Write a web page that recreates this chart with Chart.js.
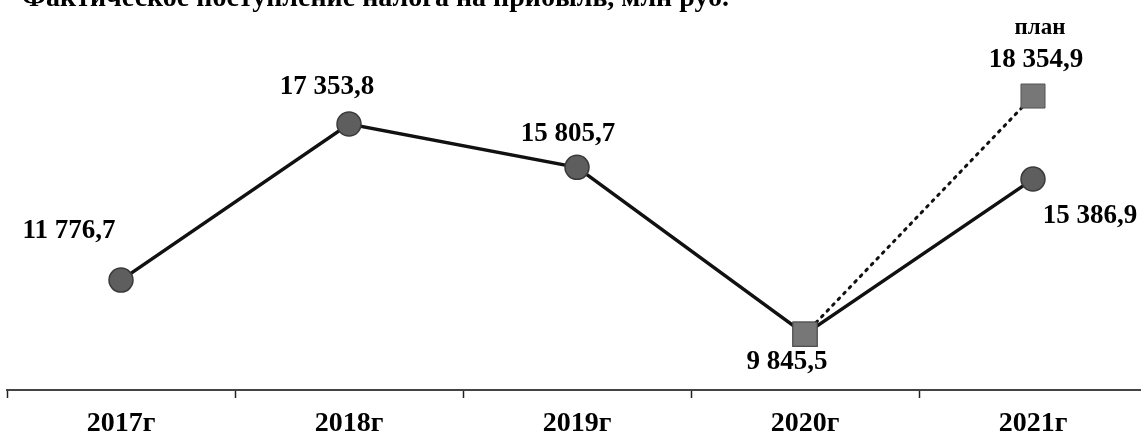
<!DOCTYPE html>
<html>
<head>
<meta charset="utf-8">
<script src="https://cdn.jsdelivr.net/npm/chart.js@4"></script>
<style>
html,body{margin:0;padding:0;background:#fff;overflow:hidden;width:1141px;height:436px;}
#wrap{position:relative;width:1150px;height:436px;}
canvas{display:block;}
</style>
</head>
<body>
<div id="wrap"><canvas id="c" width="1150" height="436"></canvas></div>
<script>
const titleText = 'Фактическое поступление налога на прибыль, млн руб.';
const categories = ['2017г', '2018г', '2019г', '2020г', '2021г'];
const actualValues = [11776.7, 17353.8, 15805.7, 9845.5, 15386.9];
const planValues = [null, null, null, 9845.5, 18354.9];
const planLabel = 'план';

function fmt(v){
  const s = v.toFixed(1).split('.');
  const int = s[0].replace(/\B(?=(\d{3})+(?!\d))/g, ' ');
  return int + ',' + s[1];
}

// label offsets (dx, dy) relative to the point, per dataset/index
const labelOffsets = {
  0: {0:[-52,-49], 1:[-22,-37], 2:[-9,-33], 3:[-18,28], 4:[57,37]},
  1: {4:[3,-36]}
};

const SERIF = '"Liberation Serif", "Times New Roman", serif';
const isShared = i => planValues[i] != null && planValues[i] === actualValues[i];

const labelPlugin = {
  id: 'pointLabels',
  afterDatasetsDraw(chart){
    const ctx = chart.ctx;
    ctx.save();
    ctx.fillStyle = '#000';
    ctx.textAlign = 'center';
    ctx.textBaseline = 'middle';
    ctx.font = 'bold 27px ' + SERIF;
    chart.data.datasets.forEach((ds, di) => {
      const meta = chart.getDatasetMeta(di);
      const offs = labelOffsets[di] || {};
      ds.data.forEach((v, i) => {
        if (v == null || !offs[i]) return;
        const p = meta.data[i];
        ctx.fillText(fmt(v), p.x + offs[i][0], p.y + offs[i][1]);
        if (di === 1) {
          ctx.save();
          ctx.font = 'bold 23px ' + SERIF;
          ctx.fillText(planLabel, p.x + offs[i][0] + 4, p.y + offs[i][1] - 32);
          ctx.restore();
        }
      });
    });
    // cropped title at the very top
    ctx.textAlign = 'left';
    ctx.textBaseline = 'alphabetic';
    ctx.font = 'bold 28px ' + SERIF;
    ctx.fillText(titleText, 22, 6);
    ctx.restore();
  }
};

new Chart(document.getElementById('c'), {
  type: 'line',
  data: {
    labels: categories,
    datasets: [
      {
        data: actualValues,
        borderColor: '#111',
        borderWidth: 3.5,
        pointStyle: c => (isShared(c.dataIndex) ? 'rect' : 'circle'),
        pointRadius: c => (isShared(c.dataIndex) ? 17 : 12),
        pointBackgroundColor: c => (isShared(c.dataIndex) ? '#777' : '#5e5e5e'),
        pointBorderColor: '#3a3a3a',
        pointBorderWidth: 1.5,
        tension: 0,
        order: 2
      },
      {
        data: planValues,
        borderColor: '#111',
        borderWidth: 3,
        borderDash: [2, 6],
        borderCapStyle: 'round',
        pointStyle: 'rect',
        pointRadius: 17,
        pointBackgroundColor: '#777',
        pointBorderColor: '#555',
        pointBorderWidth: 1,
        spanGaps: false,
        tension: 0,
        order: 1
      }
    ]
  },
  options: {
    responsive: false,
    animation: false,
    devicePixelRatio: 1,
    layout: { autoPadding: false, padding: { left: 7, right: 3, top: 22, bottom: 0 } },
    plugins: { legend: { display: false }, tooltip: { enabled: false } },
    scales: {
      y: { display: false, min: 7850, max: 21000 },
      x: {
        offset: true,
        afterFit: s => { s.height = 46; s.paddingLeft = 0; s.paddingRight = 0; },
        border: { display: true, color: '#444', width: 2 },
        grid: { display: true, drawOnChartArea: false, drawTicks: true, tickLength: 8, tickColor: '#222', tickWidth: 1.5, offset: true },
        ticks: {
          color: '#000',
          padding: 9,
          font: { family: SERIF, size: 28, weight: 'bold' }
        }
      }
    }
  },
  plugins: [labelPlugin]
});
</script>
</body>
</html>
